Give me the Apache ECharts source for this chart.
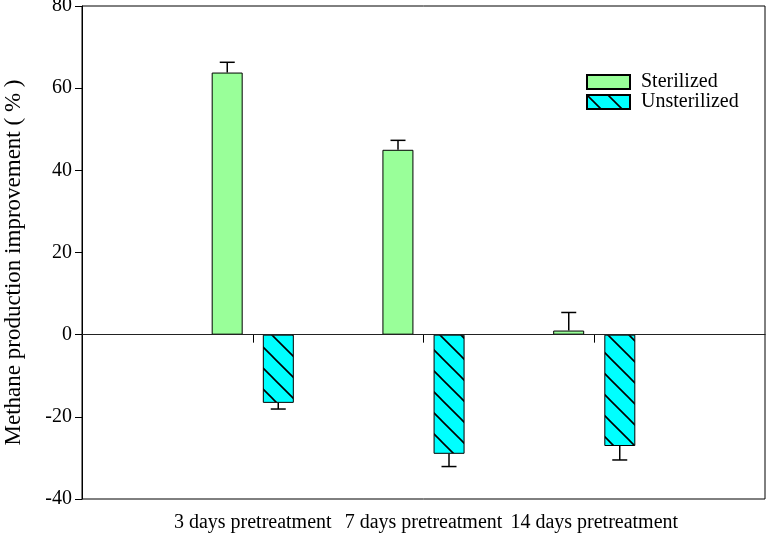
<!DOCTYPE html>
<html>
<head>
<meta charset="utf-8">
<script src="https://cdn.jsdelivr.net/npm/echarts@6/dist/echarts.min.js"></script>
<style>
  html, body { margin: 0; padding: 0; background: #fff; }
  #container { width: 768px; height: 538px; }
</style>
</head>
<body>
<div id="container"></div>
<script>
// empty slots at both ends keep the groups at 1/4, 2/4, 3/4 of the width
var categories = ['', '3 days pretreatment', '7 days pretreatment', '14 days pretreatment', ''];
var sterilized = ['-', 63.8, 45.0, 1.0, '-'];
var sterilizedErr = [0, 2.5, 2.3, 4.4, 0];
var unsterilized = ['-', -16.6, -29.0, -27.1, '-'];
var unsterilizedErr = [0, 1.5, 3.1, 3.4, 0];
var yTicks = { min: -40, max: 80, interval: 20 };

var FONT = 'Liberation Serif, serif';

// hatch for the unsterilized bars
function makeHatch(){
    var s = 21;
    var c = document.createElement('canvas');
    c.width = s; c.height = s;
    var ctx = c.getContext('2d');
    ctx.fillStyle = '#00ffff';
    ctx.fillRect(0, 0, s, s);
    ctx.strokeStyle = '#000';
    ctx.lineWidth = 1.6;
    ctx.beginPath();
    ctx.moveTo(-2, -2); ctx.lineTo(s + 2, s + 2);
    ctx.moveTo(-2, s - 2); ctx.lineTo(2, s + 2);
    ctx.moveTo(s - 2, -2); ctx.lineTo(s + 2, 2);
    ctx.stroke();
    return c;
}

function errData(vals, errs){
    var out = [];
    for (var i = 0; i < vals.length; i++) {
        if (vals[i] === '-') continue;
        out.push([i, vals[i], errs[i]]);
    }
    return out;
}

function errRenderer(offset){
    return function(params, api){
        var idx = api.value(0), v = api.value(1), e = api.value(2);
        var end = v >= 0 ? v + e : v - e;
        var p0 = api.coord([idx, v]);
        var p1 = api.coord([idx, end]);
        var x = p0[0] + offset;
        var half = 7.5;
        var style = { stroke: '#000', lineWidth: 1.5 };
        return {
            type: 'group',
            children: [
                { type: 'line', shape: { x1: x, y1: p0[1], x2: x, y2: p1[1] }, style: style },
                { type: 'line', shape: { x1: x - half, y1: p1[1], x2: x + half, y2: p1[1] }, style: style }
            ]
        };
    };
}

var dom = document.getElementById('container');
var myChart = echarts.init(dom);

var option = {
    animation: false,
    textStyle: { fontFamily: FONT, color: '#000' },
    grid: {
        left: 82, right: 3, top: 6, bottom: 39,
        outerBoundsMode: 'none',
        containLabel: false,
        show: true, borderColor: '#000', borderWidth: 1, backgroundColor: 'transparent'
    },
    legend: {
        orient: 'vertical',
        left: 586, top: 72,
        padding: 0,
        itemWidth: 43, itemHeight: 14, itemGap: 0,
        icon: 'rect',
        data: ['Sterilized', 'Unsterilized'],
        textStyle: { fontFamily: FONT, fontSize: 20, color: '#000', padding: [0, 0, 0, 6] }
    },
    xAxis: {
        type: 'category',
        data: categories,
        boundaryGap: false,
        axisLine: { lineStyle: { color: '#000', width: 1 } },
        axisTick: {
            length: 8,
            lineStyle: { color: '#000' },
            interval: function(i){ return i > 0 && i < categories.length - 1; }
        },
        axisLabel: { interval: 0, fontFamily: FONT, fontSize: 20, color: '#000', margin: 14 },
        splitLine: { show: false }
    },
    yAxis: {
        type: 'value',
        min: yTicks.min, max: yTicks.max, interval: yTicks.interval,
        name: 'Methane production improvement ( % )',
        nameLocation: 'middle',
        nameGap: 57,
        nameTextStyle: { fontFamily: FONT, fontSize: 23, color: '#000', padding: [0, 20, 0, 0] },
        axisLine: { show: true, lineStyle: { color: '#000', width: 1 } },
        axisTick: { show: true, length: 7, lineStyle: { color: '#000' } },
        axisLabel: { fontFamily: FONT, fontSize: 20, color: '#000', margin: 10 },
        splitLine: { show: false }
    },
    series: [
        {
            name: 'Sterilized',
            type: 'bar',
            data: sterilized,
            barWidth: 31,
            barGap: '65%',
            itemStyle: { color: '#99ff99', borderColor: '#000', borderWidth: 1 },
            markLine: {
                silent: true,
                symbol: 'none',
                label: { show: false },
                lineStyle: { color: '#222', width: 1, type: 'solid' },
                data: [{ yAxis: 0 }]
            }
        },
        {
            name: 'Unsterilized',
            type: 'bar',
            data: unsterilized,
            barWidth: 31,
            barGap: '65%',
            itemStyle: { color: { image: makeHatch(), repeat: 'repeat' }, borderColor: '#000', borderWidth: 1 }
        },
        {
            name: 'errS',
            type: 'custom',
            renderItem: errRenderer(-25.5),
            data: errData(sterilized, sterilizedErr),
            z: 3
        },
        {
            name: 'errU',
            type: 'custom',
            renderItem: errRenderer(25.5),
            data: errData(unsterilized, unsterilizedErr),
            z: 3
        }
    ]
};

myChart.setOption(option, true);
</script>
</body>
</html>
